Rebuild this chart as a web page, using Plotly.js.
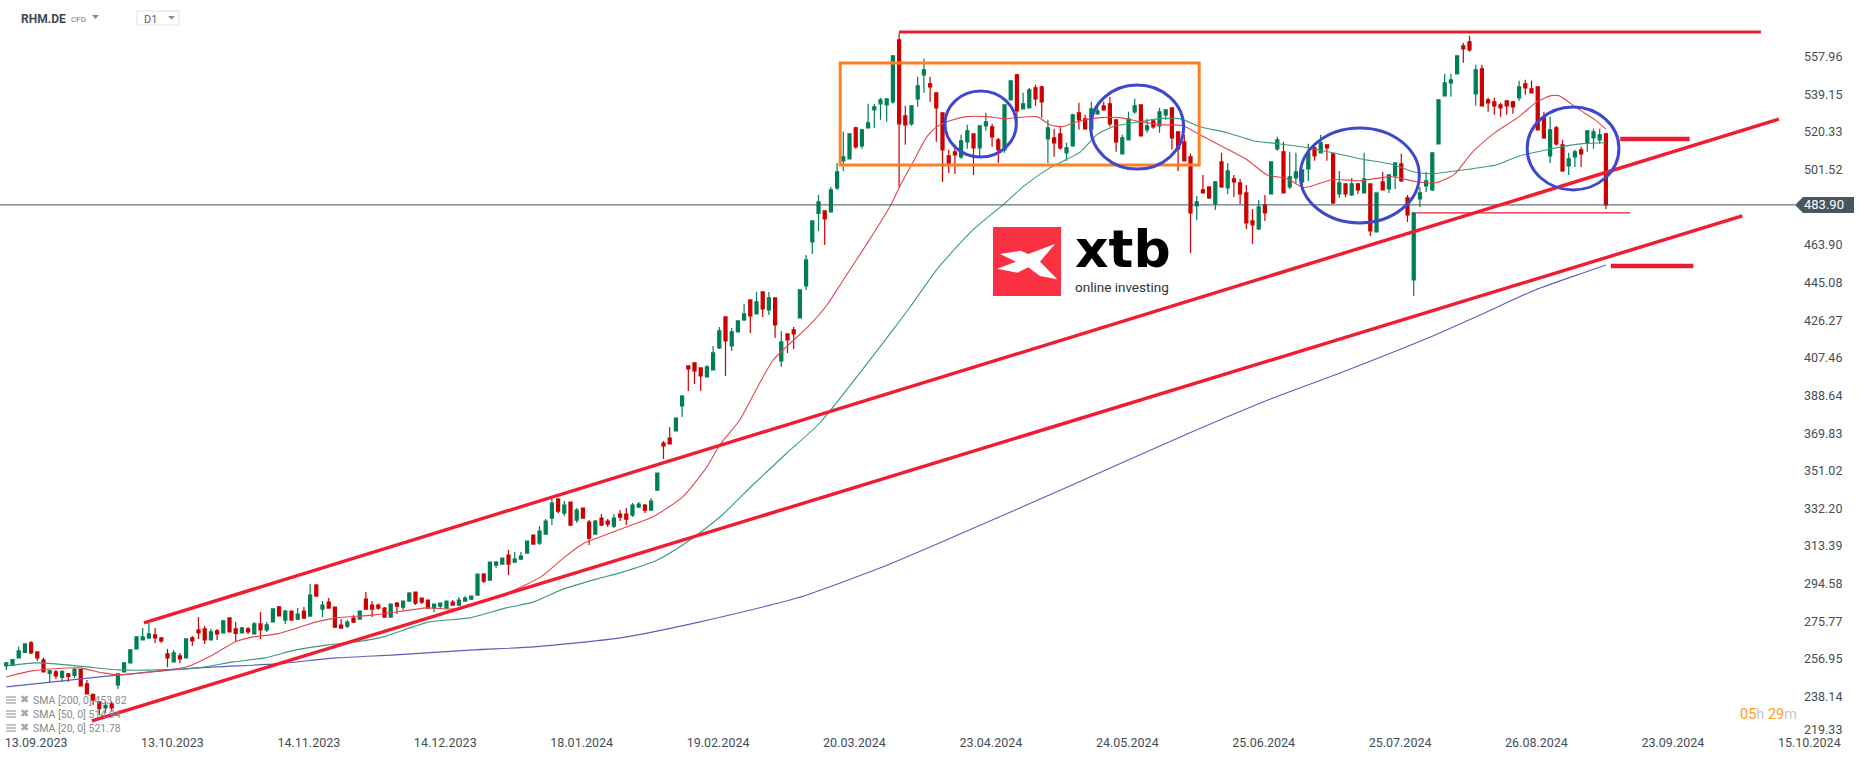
<!DOCTYPE html>
<html>
<head>
<meta charset="utf-8">
<title>RHM.DE D1</title>
<script src="https://cdn.plot.ly/plotly-3.0.1.min.js"></script>
<style>
    html, body { margin: 0; padding: 0; background: #fff; }
    #chart { width: 1866px; height: 759px; }
</style>
</head>
<body>
<div id="chart"></div>
<script>
// Daily candles
const openVals = [
    253.5,253.8,257.5,260.2,265,260.5,256.5,249.7,250.5,247.7,
    249.5,248.8,251.7,244.5,239.3,235.5,232.5,234.5,244,250.5,
    255,262,266.5,267.5,269,267.5,259.5,255.5,258.5,257.5,
    267.5,271.5,272,266.5,271,270,277.5,272,270,272,
    269.5,274.5,271.5,275.5,283,276.4,280.9,276.9,280.9,278.4,
    293.9,281.9,285.4,282.9,273.9,273.4,277.4,276.9,286.9,283.9,
    283.9,282.4,277.9,284.9,282.9,285.9,290.4,287.4,286.4,282.4,
    283.4,282.4,285.4,283.9,285.9,286.9,288.9,299.4,296.4,303.9,
    304.4,308.9,305.4,306.9,309.9,318.9,314.9,319.4,327.4,336.9,
    329.9,335.4,326.4,332.4,325.4,319.4,327.4,325.9,323.4,329.4,
    329.4,328.9,332.9,333.9,331.4,341.4,364.9,367.4,370.9,383.4,
    403.4,404.9,402.4,397.9,401.4,412.4,427.9,413.4,420.4,426.4,
    436.4,429.4,440.4,431.4,437.4,405.9,419.4,421.4,427.4,443.4,
    465.4,479.7,480.9,480.4,492.4,505.9,506.9,522.4,513.4,522.4,
    531.4,534.4,533.9,535.4,566.4,528.4,524.4,536.9,548.9,544.4,
    539.9,529.9,508.4,510.4,507.9,515.4,519.4,512.4,523.4,522.9,
    516.4,511.4,536.4,548.9,531.9,532.4,542.4,542.9,516.9,517.4,
    519.4,509.9,513.4,529.9,526.9,521.9,529.4,533.4,534.4,526.4,
    509.4,516.4,530.4,533.9,521.4,525.9,523.4,528.9,532.4,520.4,
    515.4,507.9,483.4,491.4,492.9,484.4,505.4,492.4,496.9,494.9,
    489.9,475.9,471.9,483.9,489.4,511.9,510.4,492.9,497.4,495.4,
    501.9,512.4,509.9,513.9,509.4,489.4,494.4,488.9,494.4,489.9,
    494.4,470.4,495.4,491.9,498.4,504.4,487.4,446.4,486.9,493.4,
    491.4,514.4,538.4,544.9,549.4,563.4,565.4,539.4,551.9,536.4,
    535.4,533.9,535.9,535.4,537.4,544.4,541.9,542.9,527.4,508.4,
    522.4,513.9,503.4,507.9,511.4,514.9,517.4,516.4,519.4
];
const highVals = [
    255.5,257,263.2,264.5,266,260.5,257.7,251.5,251.5,251.5,
    250,252.5,252,246.5,239.5,235.5,235.7,235.7,249.8,255.5,
    262,268.5,272.5,275,272.5,268,262,261.5,260,267,
    268.5,278,273.5,272,272,276.5,277.5,275.5,273,273,
    275.5,280.5,275.5,282,283.5,281.4,280.9,282.4,282.9,294.4,
    294.4,285.9,287.4,282.9,276.9,276.4,278.9,280.9,290.4,285.9,
    284.7,282.9,284.4,285.4,285.9,290.4,290.4,287.4,286.4,284.4,
    284.9,285.9,286.4,287.9,288.4,288.4,299.4,299.9,305.4,305.9,
    307.4,311.4,310.4,310.4,315.9,318.9,323.4,326.9,336.9,337.4,
    335.9,335.4,332.4,332.4,326.4,326.4,329.4,326.9,329.4,331.4,
    332.4,334.9,335.4,334.4,337.4,349.9,365.9,372.9,377.4,388.9,
    403.4,405.4,402.4,403.9,413.4,422.9,427.9,422.4,425.9,434.4,
    436.4,440.4,440.4,440.4,437.4,420.9,419.4,422.9,441.4,458.9,
    475.9,488.9,480.9,492.9,504.9,520.4,519.4,522.9,521.9,534.4,
    534.4,537.4,536.9,558.4,569.7,533.4,533.4,547.9,556.9,547.9,
    539.9,529.9,511.4,513.9,518.9,523.9,519.4,523.4,529.9,524.4,
    517.4,533.9,545.9,549.4,539.9,542.4,543.9,543.4,526.4,521.9,
    523.4,514.9,529.4,534.9,528.9,535.4,533.4,535.4,537.9,526.4,
    518.9,530.4,536.9,533.9,526.9,525.9,532.4,531.4,532.4,520.4,
    518.9,509.4,488.4,498.9,492.9,495.9,509.9,504.9,498.9,496.9,
    493.9,481.9,486.4,488.9,505.4,517.9,515.4,510.4,509.9,501.4,
    514.4,513.9,518.9,513.9,509.4,500.9,494.4,497.4,494.9,509.9,
    494.4,489.9,500.4,499.4,504.9,509.4,488.9,480.4,492.9,500.4,
    509.9,536.4,549.4,549.4,558.4,564.9,568.4,553.9,553.9,537.4,
    537.4,534.9,535.9,535.9,545.9,546.4,545.9,542.9,530.4,527.9,
    523.4,516.4,509.9,511.4,512.9,520.9,521.9,521.9,519.9
];
const lowVals = [
    251.5,253.5,257.5,260.2,259.5,256,250.2,245.5,247,245.5,
    245.5,247.5,243.5,239.5,234,229,229.8,230.7,242,250.5,
    255,261.8,266.5,267,265,265,252.8,255.2,255,257.5,
    263.5,267,264.5,266.5,266.5,270,270.5,265.5,269.8,269.5,
    269.3,267,270.5,275.5,278.2,274.4,276.4,276.4,277.4,278.4,
    288.4,277.8,282.4,272.4,272.4,272.4,274.9,276.9,281.4,277.9,
    281.4,277.4,277.9,279.4,281.4,285.9,283.9,284.4,282.4,280.4,
    281.9,282.4,283.9,283.4,285.9,286.4,288.9,294.9,296.4,302.4,
    304.4,298.9,304.9,306.4,309.9,314.4,313.9,319.4,323.9,329.7,
    328.4,323.4,325.1,327.4,313.9,319.4,323.4,322.9,322.4,325.9,
    323.9,327.9,332.4,329.9,331.4,340.9,356.9,364.4,370.9,377.9,
    390.9,394.4,390.9,397.9,401.4,411.9,398.4,410.9,420.4,425.9,
    419.9,429.4,427.9,428.9,417.4,402.9,409.9,411.9,427.4,441.4,
    459.4,470.9,463.9,480.4,491.4,500.9,506.9,511.9,511.9,522.4,
    522.4,526.4,525.4,534.4,492.9,513.9,523.4,532.9,539.9,535.4,
    515.4,495.4,499.9,499.4,506.9,511.9,498.9,507.9,520.9,512.9,
    504.9,509.9,536.4,525.4,531.9,532.4,533.4,527.4,504.9,507.9,
    511.4,505.9,512.9,521.4,521.4,521.4,528.9,530.9,522.9,510.4,
    509.4,516.4,529.4,518.4,519.9,521.9,519.9,526.4,511.4,500.9,
    505.9,459.9,476.4,489.7,486.9,481.4,492.4,489.4,487.9,484.4,
    471.9,464.4,471.4,475.9,489.4,510.9,489.9,491.9,494.9,491.4,
    495.9,505.9,509.9,505.9,484.4,487.4,487.9,488.4,489.4,489.9,
    468.4,470.4,491.4,489.9,491.9,495.4,475.4,438.4,482.9,490.4,
    490.9,514.4,538.4,537.9,549.4,554.9,560.4,533.4,533.4,530.4,
    528.9,527.9,528.9,529.4,535.9,538.9,539.9,521.4,516.9,504.9,
    513.4,500.4,498.9,502.9,502.9,510.4,511.9,514.4,481.9
];
const closeVals = [
    255,256.7,261,264.5,260,257.5,250.5,251,248.5,250.7,
    248.2,251.8,243.5,239.5,236.5,232.2,233.8,232.5,249.5,255,
    261.5,268,268,269.5,267.5,266,257.5,260,257,267,
    266,270,266.5,270.5,269.5,276,270.5,269.8,272.5,270.5,
    274.5,271.5,274,282,278.5,280.9,276.4,279.4,277.4,288.9,
    288.4,283.9,282.4,272.9,272.4,275.4,275.4,280.9,281.9,281.9,
    282.4,277.9,284.4,283.4,285.9,289.9,284.9,285.4,282.4,284.4,
    284.9,285.9,283.9,286.4,287.4,288.4,299.4,295.9,305.4,305.4,
    307.4,304.4,306.9,308.4,315.9,314.4,320.9,325.9,334.9,330.9,
    333.9,323.9,331.4,327.4,317.4,325.9,323.9,324.4,327.4,327.9,
    326.9,333.9,334.4,331.4,335.9,349.9,363.4,364.4,377.4,388.4,
    401.9,400.9,398.4,402.9,409.9,420.9,415.9,420.4,425.9,429.4,
    428.4,435.4,431.9,437.4,423.9,415.4,416.4,419.4,441.4,456.4,
    475.9,485.4,476.9,491.4,500.4,507.9,519.4,512.9,521.4,524.9,
    532.9,536.4,536.9,558.4,524.4,523.9,533.4,543.4,551.4,542.9,
    532.4,511.4,504.4,508.9,515.9,520.9,512.4,523.4,525.4,517.9,
    511.4,533.9,545.9,530.9,534.4,541.4,536.9,535.4,522.4,514.9,
    512.4,512.4,528.9,526.4,521.9,531.9,530.9,531.4,524.4,515.4,
    517.4,526.9,533.4,518.4,523.4,522.9,530.4,531.4,517.4,511.9,
    505.9,479.9,485.4,489.9,487.4,495.4,492.9,500.9,495.4,489.4,
    474.9,473.9,482.9,479.9,505.4,516.4,489.9,497.9,500.4,501.4,
    509.9,508.4,514.9,512.4,484.9,494.9,489.4,494.4,491.4,496.9,
    470.9,489.9,491.4,498.9,504.9,495.9,478.9,479.9,489.9,495.9,
    509.9,536.4,544.9,546.4,558.4,561.9,561.4,551.4,533.4,534.9,
    533.4,532.4,533.4,532.9,542.9,542.4,539.9,521.4,517.4,521.4,
    514.4,500.9,506.9,510.4,509.4,520.9,520.4,518.9,483.9
];

// Moving averages, read at the bends of each line
const sma200Idx = [0,15.1,30.9,43.7,53.2,62.7,75.4,85.1,99,111.9,127.5,140.9,152.7,171.9,191.2,203.5,215.1,229.3,237.7,246.6,254.3,258];
const sma200Vals = [243,248,252.5,254.5,257.5,259,261.5,263,267.5,275.5,287.4,302.4,317.9,343.9,370.4,386.4,399.9,417.4,428.9,441.4,449.9,453.82];

const sma50Idx = [0,4.8,7.9,13,18.2,24.5,30.9,36.6,41.7,46.7,51.9,56.4,60.8,68.2,74.8,80.6,85.1,89.5,95.3,99,105,109.8,115.1,120.4,125.9,131.2,143,145.8,150.3,155.9,160.8,164,168.3,173.2,175.9,178.5,182.9,186.1,189.3,192.5,196.9,201.1,205,209.8,214,218.3,223.7,226.9,230.1,234,240.4,243.7,248.5,254.3,258];
const sma50Vals = [253.5,255,254.5,253,251.5,251.5,252.5,255.5,257.5,261.5,264,265.5,268,275.5,277.5,282.5,285.5,291.5,297,300,306.4,315.4,327.9,343.9,359.9,374.9,421.4,433,452.4,471.4,484,493,502.4,510.3,519,523,525.5,527,527,523,520,516,514.5,512.5,510,507,504,500.5,499.5,501,504,508,511.5,514.5,514.94];

const sma20Idx = [0,4.1,11.7,15.6,18.2,24.5,29,33.3,36.9,39.8,43.7,50,53.2,59.5,67.9,72.4,81.2,86.2,90.1,93.3,95.3,100.1,104.3,109.1,113,115.1,118.3,121.1,123.7,129.6,132.4,135,139,142.5,144.1,146.2,148.5,150.1,152.2,154.9,158.2,160.8,166.2,168.3,170.4,172.7,176.4,179.6,182.9,186.1,189.8,192.5,196.2,200.1,203.3,206.6,209.3,213.8,218.3,223.5,227.4,230.6,233.5,236.4,240.1,244,246.9,249.2,250.4,253.7,256.2,258];
const sma20Vals = [248,251,252.5,250,249,251,253,259,265.5,268,269.5,275.5,277.5,279,282.5,282,290.5,298,308,315,317.4,323,328,338,353,364,376.4,392.4,406.4,423.9,434,446.4,465.4,483,493,505,518,523,526,528,528,527,528,524,523,525.5,527.5,527.5,525.5,524,523.5,519,513,506.5,499,497,492.5,496.5,496,498,495.5,495,499,510,520,528,535.5,538.5,538.5,531.5,526.5,521.78];

// Axis labels
const dateLabels = ['13.09.2023','13.10.2023','14.11.2023','14.12.2023','18.01.2024','19.02.2024','20.03.2024','23.04.2024','24.05.2024','25.06.2024','25.07.2024','26.08.2024','23.09.2024','15.10.2024'];
const dateTickIdx = dateLabels.map((_, i) => 4.8 + i * 22);
const priceLabels = ['557.96','539.15','520.33','501.52','463.90','445.08','426.27','407.46','388.64','369.83','351.02','332.20','313.39','294.58','275.77','256.95','238.14','219.33'];
const priceTicks = [557.96,539.15,520.33,501.52,463.90,445.08,426.27,407.46,388.64,369.83,351.02,332.20,313.39,294.58,275.77,256.95,238.14,221.7];
const lastPrice = 483.90;

// Drawn analysis lines, in [candle index, price]
const upperTrend = [[22.2, 275.0], [285.9, 526.8]];
const lowerTrend = [[13.8, 226.0], [280.0, 478.4]];
const topLine = [[144.0, 570.3], [283.0, 570.3]];
const thinLine = [[227.4, 479.9], [261.9, 479.9]];
const shortBars = [[[260.3, 516.8], [271.5, 516.8]], [[258.8, 453.4], [272.1, 453.4]]];
const rangeBox = [134.5, 503.8, 192.4, 554.8];
const circles = [
    [151.4, 507.8, 162.9, 540.8],
    [174.9, 501.8, 189.9, 543.8],
    [208.7, 474.9, 227.9, 522.3],
    [245.3, 491.4, 260.1, 532.8]
];
const smaLegend = ['SMA [200, 0] 453.82', 'SMA [50, 0] 514.94', 'SMA [20, 0] 521.78'];

const WIDTH = 1866;
const HEIGHT = 759;
const PLOT_H = 733;
const AXIS_X = 1803;
const RED = '#f01c32';
const paperX = (x) => x / WIDTH;
const paperY = (y) => 1 - y / PLOT_H;

function segment(points, color, width) {
    return {
        type: 'line', xref: 'x', yref: 'y', layer: 'above',
        x0: points[0][0], y0: points[0][1], x1: points[1][0], y1: points[1][1],
        line: { color: color, width: width }
    };
}

function paperPath(points) {
    return 'M' + points.map(p => `${paperX(p[0])},${paperY(p[1])}`).join('L') + 'Z';
}

function paperRect(x0, y0, x1, y1, fill, border) {
    return {
        type: 'rect', xref: 'paper', yref: 'paper', layer: 'above',
        x0: paperX(x0), x1: paperX(x1), y0: paperY(y0), y1: paperY(y1),
        fillcolor: fill, line: { color: border || fill, width: border ? 1 : 0 }
    };
}

function label(text, x, y, size, color, xanchor, extra) {
    return Object.assign({
        text: text, xref: 'paper', yref: 'paper', x: paperX(x), y: paperY(y),
        xanchor: xanchor || 'left', yanchor: 'middle', showarrow: false,
        font: { family: 'Roboto', size: size, color: color }
    }, extra || {});
}

const smaStyle = (color) => ({
    type: 'scatter', mode: 'lines',
    line: { color: color, width: 1.1, shape: 'spline', smoothing: 0.6 },
    hoverinfo: 'skip'
});

const traces = [
    Object.assign({ x: sma200Idx, y: sma200Vals }, smaStyle('#5c61b8')),
    Object.assign({ x: sma50Idx, y: sma50Vals }, smaStyle('#3c9a7c')),
    Object.assign({ x: sma20Idx, y: sma20Vals }, smaStyle('#e2474f')),
    {
        type: 'candlestick',
        x: closeVals.map((_, i) => i),
        open: openVals, high: highVals, low: lowVals, close: closeVals,
        whiskerwidth: 0,
        increasing: { line: { color: '#007f56', width: 1.2 }, fillcolor: '#007f56' },
        decreasing: { line: { color: '#cc0000', width: 1.2 }, fillcolor: '#cc0000' }
    }
];

const shapes = [
    // Last price line and its tag
    {
        type: 'line', xref: 'paper', yref: 'y', layer: 'above',
        x0: 0, x1: paperX(1795), y0: lastPrice, y1: lastPrice,
        line: { color: '#3f525c', width: 1 }
    },
    {
        type: 'path', xref: 'paper', yref: 'paper', layer: 'above',
        path: paperPath([[1795, 205], [1803, 197], [1854, 197], [1854, 213], [1803, 213]]),
        fillcolor: '#47565f', line: { width: 0 }
    },
    // Analysis drawings
    segment(upperTrend, RED, 3.4),
    segment(lowerTrend, RED, 3.4),
    segment(topLine, '#e81c2e', 3),
    segment(thinLine, '#e81c2e', 1.2),
    segment(shortBars[0], '#e81c2e', 4.5),
    segment(shortBars[1], '#e81c2e', 4.5),
    {
        type: 'rect', xref: 'x', yref: 'y', layer: 'above',
        x0: rangeBox[0], y0: rangeBox[1], x1: rangeBox[2], y1: rangeBox[3],
        line: { color: '#ff7f27', width: 3 }
    }
];

circles.forEach(c => {
    shapes.push({
        type: 'circle', xref: 'x', yref: 'y', layer: 'above',
        x0: c[0], y0: c[1], x1: c[2], y1: c[3],
        line: { color: '#3f48cc', width: 3 }
    });
});

// xtb logo
shapes.push(paperRect(993, 227, 1061, 296, '#f93142'));
shapes.push({
    type: 'path', xref: 'paper', yref: 'paper', layer: 'above',
    path: paperPath([[1000, 254], [1020.7, 250.7], [1028.3, 254], [1055, 244], [1040, 261.7], [1057.3, 279.3], [1040, 276], [1028.3, 267.3], [1017.3, 272.7], [997.3, 268.7], [1016, 261.7]]),
    fillcolor: '#ffffff', line: { width: 0 }
});

// Header dropdowns
shapes.push(paperRect(137, 11, 179, 25, '#ffffff', '#e2e2e2'));
shapes.push({
    type: 'path', xref: 'paper', yref: 'paper', layer: 'above',
    path: paperPath([[92, 15], [99, 15], [95.5, 19]]), fillcolor: '#8c8c8c', line: { width: 0 }
});
shapes.push({
    type: 'path', xref: 'paper', yref: 'paper', layer: 'above',
    path: paperPath([[168, 16], [175, 16], [171.5, 19.5]]), fillcolor: '#8c8c8c', line: { width: 0 }
});

// Legend icons
[700, 714, 728].forEach(y => {
    [-4, -1, 2].forEach(dy => {
        shapes.push(paperRect(6, y + dy, 16, y + dy + 2, '#c4c4c4'));
    });
});

const annotations = [
    label('<b>RHM.DE</b>', 19, 19, 12, '#3e4a52'),
    label('CFD', 69, 19, 8, '#777777'),
    label('D1', 142, 20, 11, '#5a6268'),
    label('483.90', 1824, 205, 13, '#ffffff', 'center'),
    label('<b>xtb</b>', 1123, 249, 52, '#000000', 'center', { font: { family: 'DejaVu Sans', size: 52, color: '#000000' } }),
    label('online investing', 1122, 287, 13.5, '#333333', 'center'),
    label('<span style="color:#ff9a1f">05</span><span style="color:#c8c8c8">h</span> <span style="color:#ff9a1f">29</span><span style="color:#c8c8c8">m</span>', 1768, 714, 14.5, '#c8c8c8', 'center')
];

smaLegend.forEach((text, i) => {
    const y = 700 + i * 14;
    annotations.push(label('✖', 24, y - 1, 11, '#a8a8a8', 'center'));
    annotations.push(label(text, 31, y, 10.5, '#8a8a8a'));
});

const layout = {
    width: WIDTH,
    height: HEIGHT,
    margin: { l: 0, r: 0, t: 0, b: HEIGHT - PLOT_H },
    paper_bgcolor: '#ffffff',
    plot_bgcolor: '#ffffff',
    showlegend: false,
    boxgap: 0.3,
    hovermode: false,
    xaxis: {
        type: 'linear',
        range: [-1.016, 299.95],
        rangeslider: { visible: false },
        tickmode: 'array',
        tickvals: dateTickIdx,
        ticktext: dateLabels,
        showgrid: false,
        zeroline: false,
        showline: false,
        ticks: '',
        tickfont: { family: 'Roboto', size: 12.5, color: '#444e55' }
    },
    yaxis: {
        type: 'linear',
        range: [219.97, 586.3],
        side: 'right',
        anchor: 'free',
        position: AXIS_X / WIDTH,
        tickmode: 'array',
        tickvals: priceTicks,
        ticktext: priceLabels,
        showgrid: false,
        zeroline: false,
        showline: false,
        ticks: '',
        tickfont: { family: 'Roboto', size: 12.5, color: '#444e55' }
    },
    shapes: shapes,
    annotations: annotations
};

Plotly.newPlot('chart', traces, layout, { displayModeBar: false, staticPlot: true });
</script>
</body>
</html>
